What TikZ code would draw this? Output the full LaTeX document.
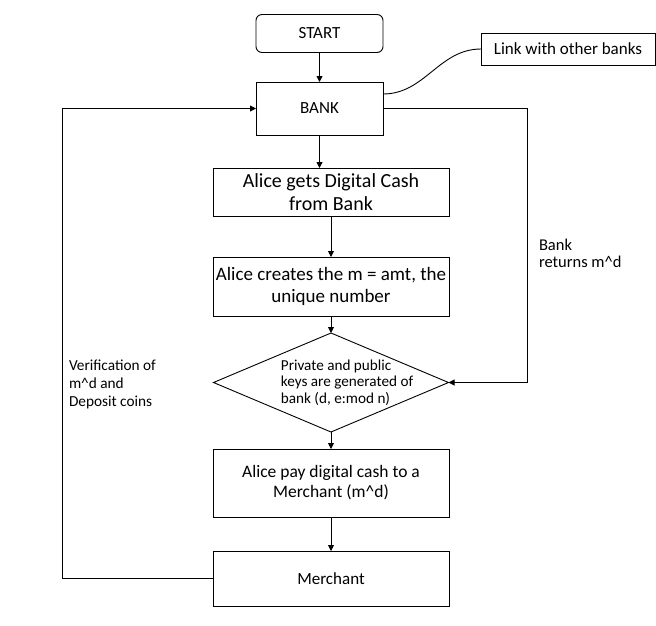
\documentclass[tikz,border=0pt]{standalone}
\usepackage{fontspec}
\setmainfont{Carlito}
\usetikzlibrary{positioning,calc,shapes.geometric,arrows.meta}

\begin{document}
\begin{tikzpicture}[x=1pt,y=1pt,line width=0.9pt,
        every node/.style={outer sep=0pt,inner sep=1pt},
        block/.style={draw,rectangle,minimum width=236pt,align=center,font=\fontsize{17.5}{20}\selectfont},
        termbox/.style={block,rounded corners=6pt,minimum width=127pt,minimum height=38pt,font=\fontsize{17}{20}\selectfont},
        decision/.style={draw,diamond,minimum width=235pt,minimum height=99pt,inner sep=0pt},
        note/.style={align=left,anchor=west},
        flow/.style={-{Triangle[length=6pt,width=6pt]}}]
   \useasboundingbox (0,0) rectangle (656,-625);

   \node[termbox] (start) at (319.5,-33.5) {START};
   \node[block,minimum width=127pt,minimum height=53pt,font=\fontsize{17}{20}\selectfont,below=29.5pt of start] (bank) {BANK};
   \node[block,minimum width=174pt,minimum height=32pt,font=\fontsize{17}{20}\selectfont] (link) at (568,-49) {Link with other banks};

   \node[block,minimum height=48pt,font=\fontsize{20}{23.3}\selectfont,below=33pt of bank,xshift=11.5pt] (cash) {Alice gets Digital Cash\\from Bank};
   \node[block,minimum height=59pt,font=\fontsize{19}{21.7}\selectfont,below=41pt of cash] (create) {Alice creates the m = amt, the\\unique number};
   \node[decision,below=17pt of create,
         label={[align=left,font=\fontsize{15.2}{16.7}\selectfont,xshift=16pt]center:Private and public\\keys are generated of\\bank (d, e:mod n)}] (keys) {};
   \node[block,minimum height=68pt,below=17pt of keys] (pay) {Alice pay digital cash to a\\Merchant (m\textasciicircum d)};
   \node[block,minimum height=55pt,font=\fontsize{17}{20}\selectfont,below=34pt of pay] (merchant) {Merchant};

   \node[note,font=\fontsize{16.5}{16.7}\selectfont] (returns) at (538,-253.5) {Bank\\returns m\textasciicircum d};
   \node[note,font=\fontsize{15.3}{18}\selectfont] (verify) at (68,-384.5) {Verification of\\m\textasciicircum d and\\Deposit coins};

   \coordinate (rloop) at (527,-108.5);
   \coordinate (lloop) at (62,-578.5);

   \draw[flow] (start) -- (bank);
   \draw[flow] (bank.south) -- (bank.south |- cash.north);
   \draw[flow] (cash) -- (create);
   \draw[flow] (create) -- (keys);
   \draw[flow] (keys) -- (pay);
   \draw[flow] (pay) -- (merchant);
   \draw[flow] (bank.east) -- (rloop) |- (keys.east);
   \draw[flow] (merchant.west) -- (lloop) |- (bank.west);
   \draw ([yshift=-12pt]bank.north east) to[out=0,in=180] (link.west);
\end{tikzpicture}
\end{document}
